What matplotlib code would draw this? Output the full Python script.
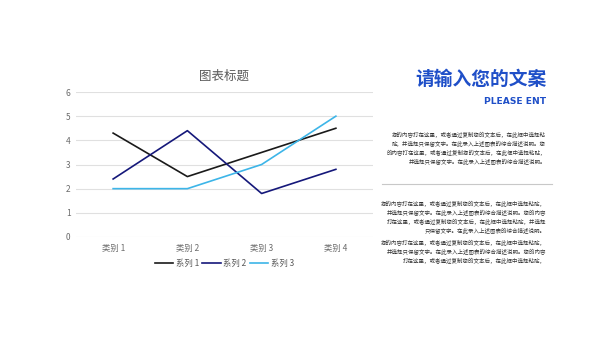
import matplotlib.pyplot as plt

plt.rcParams['font.family'] = ['Noto Sans CJK SC', 'DejaVu Sans']

# 数据
categories = ['类别 1', '类别 2', '类别 3', '类别 4']
series1 = [4.3, 2.5, 3.5, 4.5]
series2 = [2.4, 4.4, 1.8, 2.8]
series3 = [2.0, 2.0, 3.0, 5.0]
series_names = ['系列 1', '系列 2', '系列 3']
series_colors = ['#1a1a1a', '#15187a', '#3db5e8']

para1 = ["您的内容打在这里，或者通过复制您的文本后，在此框中选择粘",
         "贴，并选择只保留文字。在此录入上述图表的综合描述说明。您",
         "的内容打在这里，或者通过复制您的文本后，在此框中选择粘贴，",
         "并选择只保留文字。在此录入上述图表的综合描述说明。"]
para2 = ["您的内容打在这里，或者通过复制您的文本后，在此框中选择粘贴，",
         "并选择只保留文字。在此录入上述图表的综合描述说明。您的内容",
         "打在这里，或者通过复制您的文本后，在此框中选择粘贴，并选择",
         "只保留文字。在此录入上述图表的综合描述说明。"]
para3 = ["您的内容打在这里，或者通过复制您的文本后，在此框中选择粘贴，",
         "并选择只保留文字。在此录入上述图表的综合描述说明。您的内容",
         "打在这里，或者通过复制您的文本后，在此框中选择粘贴，"]

fig = plt.figure(figsize=(6, 3.38), dpi=100)
ax = fig.add_axes([76 / 600, 1 - 237 / 338, 297 / 600, 145 / 338])

x = range(len(categories))
for vals, name, col in zip([series1, series2, series3], series_names, series_colors):
    ax.plot(x, vals, color=col, lw=1.2, label=name)

ax.set_xlim(-0.5, 3.5)
ax.set_ylim(0, 6)
ax.set_yticks(range(7))
ax.set_xticks(list(x))
ax.set_xticklabels(categories)
ax.grid(axis='y', color='#e0e0e0', lw=0.8)
ax.set_axisbelow(True)
for s in ax.spines.values():
    s.set_visible(False)
ax.tick_params(length=0, labelsize=6, colors='#6b6b6b', pad=4)
ax.tick_params(axis='x', pad=5)
ax.set_title('图表标题', fontsize=9, color='#595959', pad=9)
ax.legend(loc='upper center', bbox_to_anchor=(0.5, -0.1), ncol=3, frameon=False,
          fontsize=6, labelcolor='#595959', handlelength=2.2, columnspacing=0.4,
          handletextpad=0.3)

# 右侧文字
blue = '#1f4fc8'
fig.text(547 / 600, 1 - 79 / 338, '请输入您的文案', fontsize=13.5, fontweight='bold',
         color=blue, ha='right', va='center')
fig.text(546 / 600, 1 - 101 / 338, 'PLEASE ENT', fontsize=6.6, fontweight='bold',
         color=blue, ha='right', va='center', family=['DejaVu Sans'])

def draw_para(lines, y0):
    for i, line in enumerate(lines):
        fig.text(546 / 600, 1 - (y0 + i * 9) / 338, line, fontsize=3.95,
                 color='#333333', ha='right', va='center')

draw_para(para1, 135)
fig.add_artist(plt.Line2D([382 / 600, 552 / 600], [1 - 184 / 338] * 2,
                          color='#c8c8c8', lw=0.8))
draw_para(para2, 204)
draw_para(para3, 243)

fig.savefig('out.png', dpi=100)
